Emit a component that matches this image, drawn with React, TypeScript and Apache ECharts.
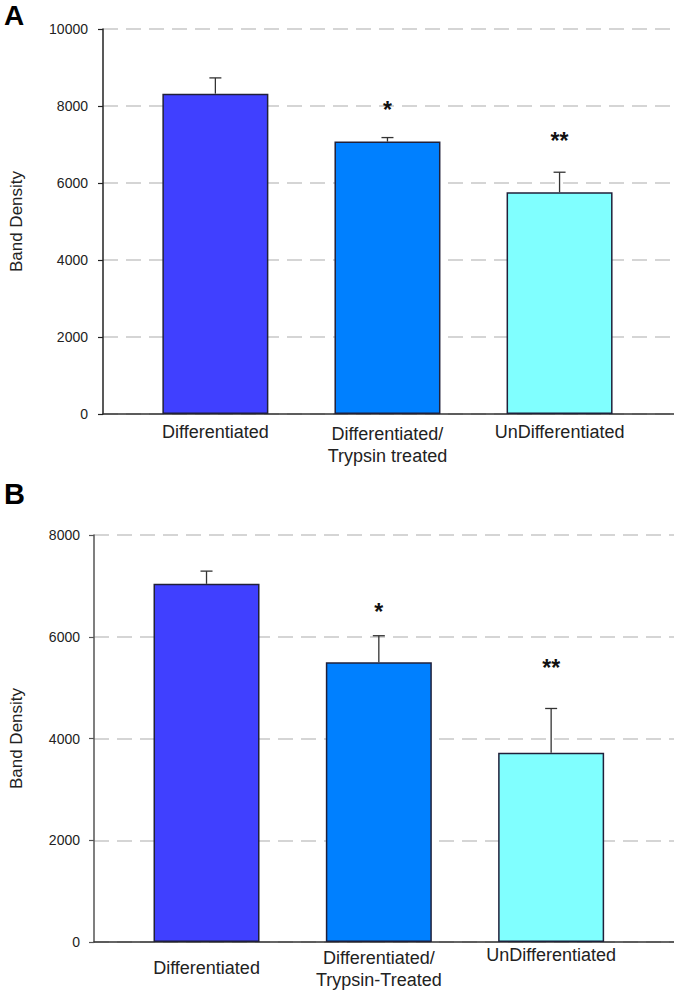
import React, { useEffect, useRef } from 'react';
import * as echarts from 'echarts';

// ---- Panel A data ----
const categoriesA = ['Differentiated', 'Differentiated/\nTrypsin treated', 'UnDifferentiated'];
const valuesA = [8320, 7075, 5760];
const errorsA = [410, 105, 520];
const starsA = ['', '*', '**'];
const starValuesA = [0, 8030, 7220];
const yMaxA = 10000;

// ---- Panel B data ----
const categoriesB = ['Differentiated', 'Differentiated/\nTrypsin-Treated', 'UnDifferentiated'];
const valuesB = [7040, 5500, 3720];
const errorsB = [250, 520, 870];
const starsB = ['', '*', '**'];
const starValuesB = [0, 6585, 5485];
const yMaxB = 8000;

const yInterval = 2000;
const barColors = ['#4040FF', '#0080FF', '#80FFFF'];
const FONT = 'Liberation Sans, Arial, sans-serif';

function panelSeries(
  idx: number,
  categories: string[],
  values: number[],
  errors: number[],
  stars: string[],
  starValues: number[],
  labelDy: number[]
) {
  const starData: number[][] = [];
  const starText: string[] = [];
  stars.forEach((s, i) => {
    if (s) {
      starData.push([i, starValues[i]]);
      starText.push(s);
    }
  });
  return [
    {
      type: 'bar',
      xAxisIndex: idx,
      yAxisIndex: idx,
      barWidth: 106,
      z: 2,
      data: values.map((v, i) => ({
        value: [i, v],
        itemStyle: { color: barColors[i], borderColor: '#20203a', borderWidth: 1.5 },
      })),
    },
    {
      type: 'custom',
      xAxisIndex: idx,
      yAxisIndex: idx,
      z: 3,
      encode: { x: 0, y: [1, 2] },
      data: values.map((v, i) => [i, v, v + errors[i]]),
      renderItem: (params: any, api: any) => {
        const x = api.value(0);
        const p0 = api.coord([x, api.value(1)]);
        const p1 = api.coord([x, api.value(2)]);
        const st = { stroke: '#333', lineWidth: 1.3 };
        return {
          type: 'group',
          children: [
            { type: 'line', shape: { x1: p0[0], y1: p0[1], x2: p1[0], y2: p1[1] }, style: st },
            { type: 'line', shape: { x1: p1[0] - 6, y1: p1[1], x2: p1[0] + 6, y2: p1[1] }, style: st },
          ],
        };
      },
    },
    {
      type: 'custom',
      xAxisIndex: idx,
      yAxisIndex: idx,
      z: 4,
      data: starData,
      renderItem: (params: any, api: any) => {
        const p = api.coord([api.value(0), api.value(1)]);
        return {
          type: 'text',
          x: p[0],
          y: p[1] + 5,
          style: {
            text: starText[params.dataIndex],
            fill: '#111',
            fontSize: 23,
            fontWeight: 'bold',
            fontFamily: FONT,
            align: 'center',
            verticalAlign: 'middle',
          },
        };
      },
    },
    {
      type: 'custom',
      xAxisIndex: idx,
      yAxisIndex: idx,
      z: 4,
      clip: false,
      data: categories.map((c, i) => [i, 0]),
      renderItem: (params: any, api: any) => {
        const i = params.dataIndex;
        const p = api.coord([api.value(0), 0]);
        return {
          type: 'text',
          x: p[0],
          y: p[1] + labelDy[i],
          style: {
            text: categories[i],
            fill: '#222',
            fontSize: 18,
            lineHeight: 22,
            fontFamily: FONT,
            align: 'center',
            verticalAlign: 'top',
          },
        };
      },
    },
  ];
}

function yAxisCfg(idx: number, max: number, nameGap: number, axisColor: string, margin: number) {
  return {
    type: 'value',
    gridIndex: idx,
    min: 0,
    max,
    interval: yInterval,
    name: 'Band Density',
    nameLocation: 'middle',
    nameRotate: 90,
    nameGap,
    nameTextStyle: { fontSize: 17, color: '#222', fontFamily: FONT },
    axisLine: { show: true, onZero: false, lineStyle: { color: axisColor, width: 1.5 } },
    axisTick: { show: true, length: 5, lineStyle: { color: axisColor, width: 1.2 } },
    axisLabel: {
      fontSize: 14,
      color: '#222',
      fontFamily: FONT,
      margin,
      formatter: (v: number) => String(v),
    },
    splitLine: { show: true, lineStyle: { color: '#c8c8c8', width: 1.5, type: [15, 8] } },
  };
}

function xAxisCfg(idx: number, min: number, max: number) {
  return {
    type: 'value',
    gridIndex: idx,
    min,
    max,
    axisLine: { show: true, lineStyle: { color: '#333', width: 1.5 } },
    axisTick: { show: false },
    axisLabel: { show: false },
    splitLine: { show: false },
  };
}

export default function App() {
  const ref = useRef<HTMLDivElement>(null);
  useEffect(() => {
    if (!ref.current) return;
    const chart = echarts.init(ref.current, undefined, { renderer: 'svg' });
    chart.setOption({
      animation: false,
      backgroundColor: '#fff',
      grid: [
        { left: 90, top: 29, width: 584, height: 385 },
        { left: 81, top: 535, width: 593, height: 407 },
      ],
      xAxis: [xAxisCfg(0, -0.653, 2.665), xAxisCfg(1, -0.653, 2.713)],
      yAxis: [yAxisCfg(0, yMaxA, 78, '#222', 15), yAxisCfg(1, yMaxB, 69, '#555', 14)],
      graphic: [
        {
          type: 'text',
          left: 4,
          top: 1,
          style: { text: 'A', fontSize: 28, fontWeight: 'bold', fill: '#000', fontFamily: FONT },
        },
        {
          type: 'text',
          left: 4,
          top: 479,
          style: { text: 'B', fontSize: 29, fontWeight: 'bold', fill: '#000', fontFamily: FONT },
        },
      ],
      series: [
        ...panelSeries(0, categoriesA, valuesA, errorsA, starsA, starValuesA, [7, 9, 7]),
        ...panelSeries(1, categoriesB, valuesB, errorsB, starsB, starValuesB, [15, 5, 2]),
      ],
    });
    return () => chart.dispose();
  }, []);
  return (
    <div
      ref={ref}
      style={{ position: 'absolute', left: 0, top: 0, width: 674, height: 998 }}
    />
  );
}
